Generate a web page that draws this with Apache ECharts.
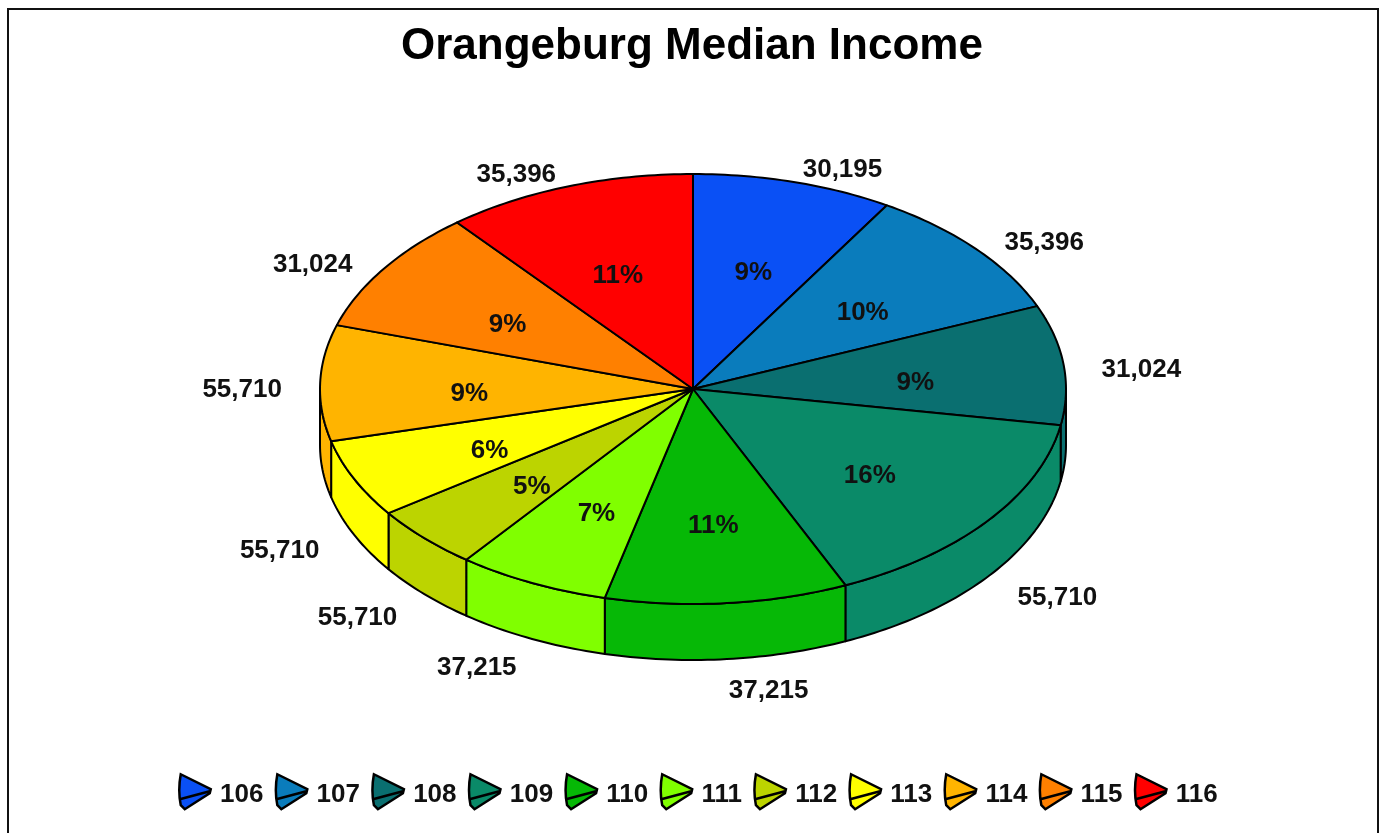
<!DOCTYPE html>
<html>
<head>
<meta charset="utf-8">
<style>
  html, body { margin: 0; padding: 0; background: #fff; }
  #main { width: 1383px; height: 833px; }
</style>
<script src="https://cdn.jsdelivr.net/npm/echarts@6/dist/echarts.min.js"></script>
</head>
<body>
<div id="main"></div>
<script>
// data
const categories = ['106', '107', '108', '109', '110', '111', '112', '113', '114', '115', '116']
// slice sizes as drawn (percent of the ellipse sweep)
const shares = [8.7, 10, 9, 15.6, 10.5, 6.6, 4.8, 5.9, 8.7, 9.3, 10.9]
// labels printed on the chart
const incomes = [30195, 35396, 31024, 55710, 37215, 37215, 55710, 55710, 55710, 31024, 35396]
const percents = [9, 10, 9, 16, 11, 7, 5, 6, 9, 9, 11]
const colors = ['#0a50f5', '#0a7cbc', '#0a6f70', '#0a8a68', '#06b806', '#80ff00', '#bcd400', '#ffff00', '#ffb400', '#ff8000', '#ff0000']

// pie geometry
const cx = 693, cy = 389, rx = 373, ry = 215, depth = 56
const FONT = 'bold 26px "Liberation Sans", Arial, sans-serif'
const total = shares.reduce((a, b) => a + b, 0)

const ellipse = (deg, dy) => {
  const t = deg * Math.PI / 180
  return [cx + rx * Math.sin(t), cy - ry * Math.cos(t) + (dy || 0)]
}

const arc = (from, to, dy) => {
  const pts = []
  const n = Math.max(2, Math.ceil(Math.abs(to - from)))
  for (let i = 0; i <= n; i++) pts.push(ellipse(from + (to - from) * i / n, dy))
  return pts
}

function renderSlice (params, api) {
  const i = params.seriesIndex
  const before = shares.slice(0, i).reduce((a, b) => a + b, 0)
  const a1 = before / total * 360
  const a2 = a1 + api.value(0) / total * 360
  const mid = (a1 + a2) / 2
  const t = mid * Math.PI / 180
  const sin = Math.sin(t), cos = Math.cos(t)
  const color = api.visual('color')
  const stroke = { stroke: '#000', lineWidth: 2, lineJoin: 'round' }
  const children = []

  // side wall, only the front half shows
  const w1 = Math.max(a1, 90), w2 = Math.min(a2, 270)
  if (w2 > w1) {
    children.push({
      type: 'polygon',
      z2: 1,
      shape: { points: arc(w1, w2, 0).concat(arc(w2, w1, depth)) },
      style: Object.assign({ fill: color }, stroke)
    })
  }

  // top face
  children.push({
    type: 'polygon',
    z2: 2,
    shape: { points: [[cx, cy]].concat(arc(a1, a2, 0)) },
    style: Object.assign({ fill: color }, stroke)
  })

  // percent inside the slice
  children.push({
    type: 'text',
    z2: 5,
    style: {
      x: cx + rx * 0.6 * sin,
      y: cy - ry * 0.6 * cos + 8,
      text: api.value(2) + '%',
      font: FONT,
      fill: '#111',
      align: 'center',
      verticalAlign: 'middle'
    }
  })

  // income outside the pie
  const below = mid > 90 && mid < 270
  children.push({
    type: 'text',
    z2: 5,
    style: {
      x: cx + (rx + 40) * sin + (sin > 0 ? 38 : -38),
      y: below ? cy - ry * cos + 60 - 28 * cos : cy + 7 - (ry + 20) * cos,
      text: api.value(1).toLocaleString('en-US'),
      font: FONT,
      fill: '#111',
      align: 'center',
      verticalAlign: 'middle'
    }
  })

  return { type: 'group', children }
}

const series = categories.map((name, i) => ({
  name,
  type: 'custom',
  coordinateSystem: 'none',
  renderItem: renderSlice,
  itemStyle: { color: colors[i] },
  silent: true,
  data: [[shares[i], incomes[i], percents[i]]]
}))

const legendText = { fontFamily: '"Liberation Sans", Arial, sans-serif', fontWeight: 'bold', fontSize: 26, color: '#111' }

const myChart = echarts.init(document.getElementById('main'))
myChart.setOption({
  animation: false,
  backgroundColor: '#fff',
  title: {
    text: 'Orangeburg Median Income',
    left: 401,
    top: 25,
    padding: 0,
    textStyle: { fontFamily: '"Liberation Sans", Arial, sans-serif', fontWeight: 'bold', fontSize: 44, color: '#000' }
  },
  legend: {
    data: categories,
    left: 178,
    top: 773,
    padding: 0,
    itemWidth: 32,
    itemHeight: 35,
    itemGap: 11.2,
    icon: 'path://M2 0L32 15L31 19L6 35L2 31Q-1 16 2 0ZM1 25L31 17',
    itemStyle: { borderColor: '#000', borderWidth: 2.5 },
    selectedMode: false,
    formatter: '{t|{name}}',
    textStyle: Object.assign({}, legendText, {
      padding: [0, 0, 0, 4],
      rich: { t: Object.assign({ padding: [6, 0, 0, 0] }, legendText) }
    })
  },
  // frame round the chart, the picture cuts off its bottom edge
  graphic: [{
    type: 'polyline',
    silent: true,
    shape: { points: [[8, 833], [8, 9], [1378, 9], [1378, 833]] },
    style: { fill: null, stroke: '#111', lineWidth: 2 }
  }],
  series
})
</script>
</body>
</html>
